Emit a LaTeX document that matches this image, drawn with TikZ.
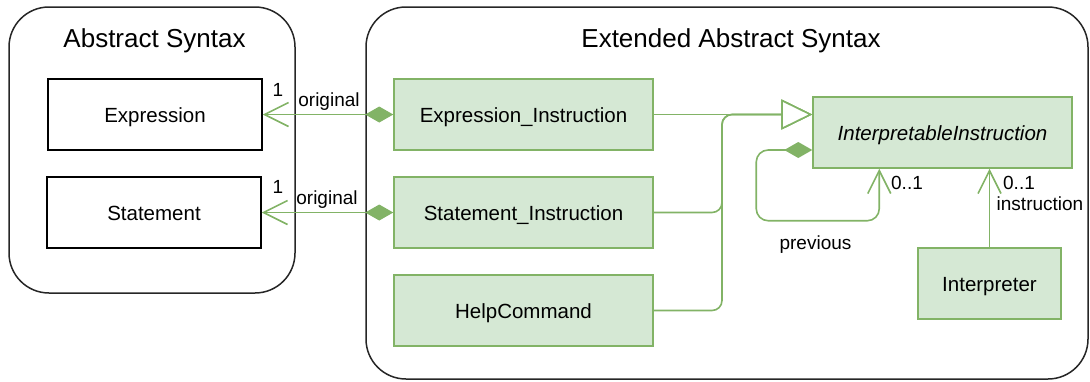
\documentclass[tikz,border=0pt]{standalone}
\usepackage{fontspec}
\setmainfont{Liberation Sans}
\usetikzlibrary{arrows.meta,calc}
\definecolor{gfill}{HTML}{D5E8D4}
\definecolor{gline}{HTML}{82B366}
\begin{document}
\begin{tikzpicture}[x=1pt,y=-1pt,
  cont/.style={draw=black!85, line width=1.5pt, rounded corners=40pt, inner sep=0pt},
  ttl/.style={font=\fontsize{26}{30}\selectfont, inner sep=0pt, anchor=base},
  box/.style={draw=black, fill=white, line width=1.5pt, minimum width=214pt, minimum height=71pt, inner sep=0pt, text height=15pt, text depth=0pt, font=\fontsize{20.5}{24}\selectfont},
  gbox/.style={box, draw=gline, fill=gfill, minimum width=259pt},
  lab/.style={font=\fontsize{19}{22}\selectfont, inner sep=0pt, anchor=base},
  gline1/.style={draw=gline, line width=1.6pt},
  assoc/.style={gline1, {Diamond[length=28pt,width=16pt]}-{Straight Barb[length=24pt,width=24pt]}},
  gen/.style={gline1, -{Triangle[open,length=31pt,width=30pt,fill=white]}},
  nav/.style={gline1, -{Straight Barb[length=23pt,width=23pt]}}
]
\useasboundingbox (0,0) rectangle (1090,381);

% containers
\node[cont, minimum width=286pt, minimum height=286pt] (absC) at (152,150) {};
\node[cont, minimum width=722pt, minimum height=372pt] (extC) at (727,193) {};
\node[ttl] (absT) at (154.5,47) {Abstract Syntax};
\node[ttl] (extT) at (731,47) {Extended Abstract Syntax};

% boxes
\node[box] (expr) at (155,114.5) {Expression};
\node[box] (stmt) at (154,212.5) {Statement};
\node[gbox] (exprI) at (523.5,114.5) {Expression\_Instruction};
\node[gbox] (stmtI) at (523.5,212.5) {Statement\_Instruction};
\node[gbox] (help) at (523.5,310.5) {HelpCommand};
\node[gbox] (interp) at (942.5,132.5) {\itshape InterpretableInstruction};
\node[gbox, minimum width=143pt] (interpreter) at (989.5,283.5) {Interpreter};

% associations "original"
\draw[assoc] (exprI.west) -- (expr.east);
\draw[assoc] (stmtI.west) -- (stmtI.west -| stmt.east);
\node[lab] (o1) at (278,96) {1};
\node[lab] (o2) at (278,193) {1};
\node[lab] (or1) at (329,106) {original};
\node[lab] (or2) at (327,204) {original};

% generalizations
\coordinate (gt) at (exprI.east -| interp.west);
\coordinate (gx) at (722,0);
\draw[gen] (exprI.east) -- (gt);
\draw[gen, rounded corners=10pt] (stmtI.east) -| (gx |- gt) -- (gt);
\draw[gen, rounded corners=10pt] (help.east) -| (gx |- gt) -- (gt);

% self composition "previous"
\coordinate (ls) at ($(interp.west)+(0,17.5)$);
\coordinate (le) at ($(interp.south west)+(67,0)$);
\draw[gline1, rounded corners=12pt, {Diamond[length=28pt,width=16pt]}-{Straight Barb[length=23pt,width=23pt]}]
  (ls) -- ++(-56,0) |- ($(le)+(0,52)$) -- (le);
\node[lab] (m1) at (907,189) {0..1};
\node[lab] (prev) at (815.5,249) {previous};

% interpreter navigation
\draw[nav] (interpreter.north) -- (interpreter.north |- interp.south);
\node[lab] (m2) at (1019,189) {0..1};
\node[lab] (instr) at (1040,210) {instruction};
\end{tikzpicture}
\end{document}
